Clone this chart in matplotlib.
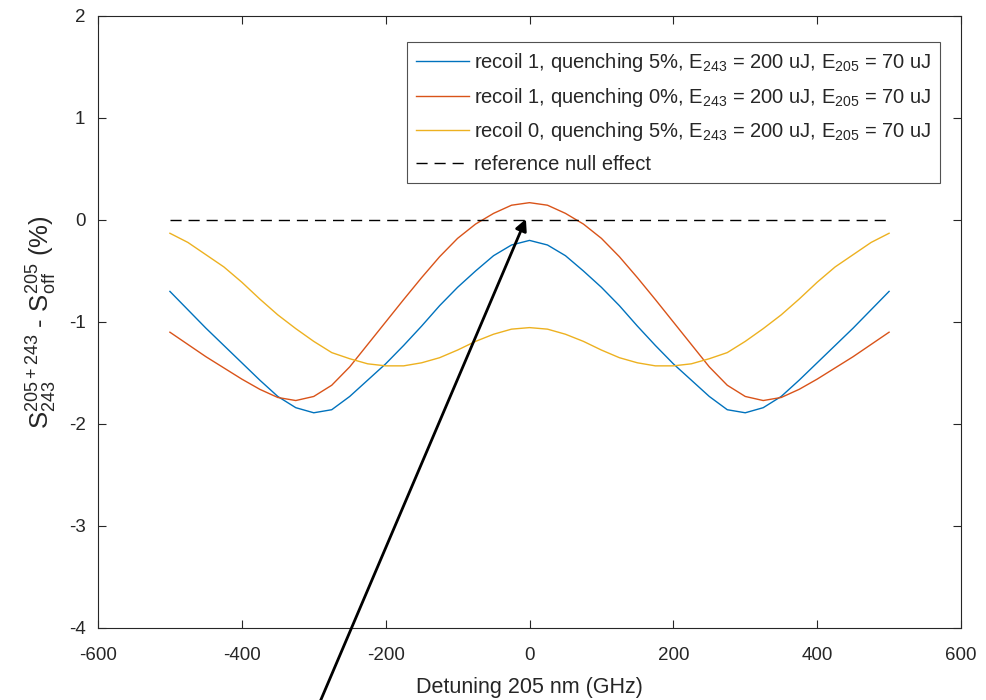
import numpy as np
import matplotlib
matplotlib.use("Agg")
import matplotlib.pyplot as plt

# Detuning (GHz) and signal difference (%)
detuning = np.arange(-500, 501, 25)

recoil1_q5 = [-0.70, -0.88, -1.06, -1.23, -1.40, -1.57, -1.73, -1.84, -1.89, -1.86, -1.73,
              -1.57, -1.41, -1.23, -1.04, -0.84, -0.66, -0.50, -0.35, -0.245, -0.20,
              -0.245, -0.35, -0.50, -0.66, -0.84, -1.04, -1.23, -1.41, -1.57, -1.73,
              -1.86, -1.89, -1.84, -1.73, -1.57, -1.40, -1.23, -1.06, -0.88, -0.70]
recoil1_q0 = [-1.10, -1.22, -1.34, -1.45, -1.56, -1.66, -1.74, -1.77, -1.73, -1.62, -1.44,
              -1.22, -1.00, -0.78, -0.565, -0.36, -0.18, -0.04, 0.065, 0.145, 0.17,
              0.145, 0.065, -0.04, -0.18, -0.36, -0.565, -0.78, -1.00, -1.22, -1.44,
              -1.62, -1.73, -1.77, -1.74, -1.66, -1.56, -1.45, -1.34, -1.22, -1.10]
recoil0_q5 = [-0.13, -0.22, -0.34, -0.46, -0.61, -0.775, -0.93, -1.065, -1.19, -1.30, -1.36,
              -1.41, -1.43, -1.43, -1.40, -1.35, -1.275, -1.19, -1.12, -1.07, -1.055,
              -1.07, -1.12, -1.19, -1.275, -1.35, -1.40, -1.43, -1.43, -1.41, -1.36,
              -1.30, -1.19, -1.065, -0.93, -0.775, -0.61, -0.46, -0.34, -0.22, -0.13]
null_effect = np.zeros(len(detuning))

labels = [r"recoil 1, quenching 5%, E$_{243}$ = 200 uJ, E$_{205}$ = 70 uJ",
          r"recoil 1, quenching 0%, E$_{243}$ = 200 uJ, E$_{205}$ = 70 uJ",
          r"recoil 0, quenching 5%, E$_{243}$ = 200 uJ, E$_{205}$ = 70 uJ",
          "reference null effect"]

plt.rcParams["font.family"] = ["Liberation Sans", "DejaVu Sans"]
plt.rcParams["mathtext.fontset"] = "custom"
plt.rcParams["mathtext.rm"] = "Liberation Sans"
plt.rcParams["mathtext.it"] = "Liberation Sans"
plt.rcParams["mathtext.default"] = "regular"
plt.rcParams["axes.unicode_minus"] = False

dark = "#262626"
fig = plt.figure(figsize=(9.87, 7.0), dpi=100)
ax = fig.add_axes([98 / 987, 1 - 628 / 700, (961 - 98) / 987, (628 - 16) / 700])

ax.plot(detuning, recoil1_q5, color="#0072BD", lw=1.0, label=labels[0])
ax.plot(detuning, recoil1_q0, color="#D95319", lw=1.0, label=labels[1])
ax.plot(detuning, recoil0_q5, color="#EDB120", lw=1.0, label=labels[2])
ax.plot(detuning, null_effect, color="black", lw=1.0, dashes=(8, 5), label=labels[3])

ax.set_xlim(-600, 600)
ax.set_ylim(-4, 2)
ax.set_xticks(np.arange(-600, 601, 200))
ax.set_yticks(np.arange(-4, 3, 1))
ax.tick_params(direction="in", length=6, width=0.8, colors=dark, labelsize=13.5,
               top=True, right=True)
ax.tick_params(axis="x", pad=14)
ax.tick_params(axis="y", pad=9)
for s in ax.spines.values():
    s.set_color(dark)
    s.set_linewidth(0.8)

ax.set_xlabel("Detuning 205 nm (GHz)", fontsize=15.5, color=dark, labelpad=9)
ax.set_ylabel(r"S$^{205+243}_{243}$ - S$^{205}_{off}$ (%)", fontsize=18.5, color=dark, labelpad=7)

leg = ax.legend(loc="upper right", fontsize=14.5, frameon=True, fancybox=False,
                edgecolor=dark, handlelength=2.6, handletextpad=0.25, borderpad=0.45,
                labelspacing=0.58, borderaxespad=0,
                bbox_to_anchor=((940 - 98) / 863, 1 - (42 - 16) / 612))
leg.get_frame().set_linewidth(0.8)
for t in leg.get_texts():
    t.set_color(dark)

ax.annotate("", xy=(-5, 0.01), xycoords="data",
            xytext=(0.322, -0.01), textcoords="figure fraction",
            arrowprops=dict(arrowstyle="-|>", color="black", lw=2.0,
                            mutation_scale=17, shrinkA=0, shrinkB=0),
            annotation_clip=False)

fig.savefig("out.png", dpi=100)
